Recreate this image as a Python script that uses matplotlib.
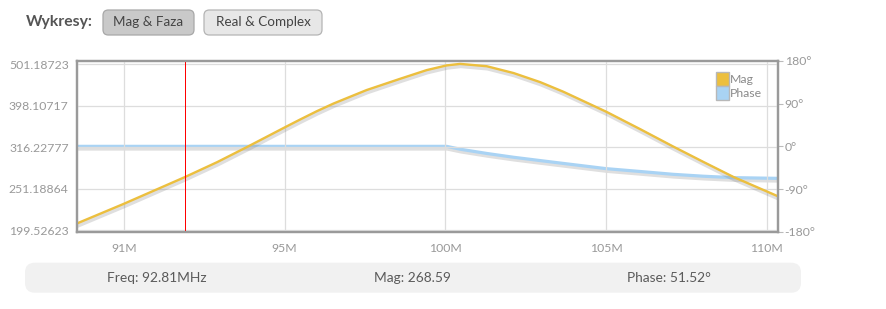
import matplotlib
matplotlib.use('Agg')
import matplotlib.pyplot as plt
import matplotlib.patheffects as pe
from matplotlib.patches import FancyBboxPatch, Patch

W, H, DPI = 886, 309, 100

# values
freq_mhz = [88.54, 89.99, 91.88, 92.90, 93.83, 95.0, 95.48, 96.0, 96.52, 97.55, 98.59,
            99.42, 100.04, 100.46, 101.29, 102.12, 102.95, 103.67, 105.0, 106.06,
            107.09, 108.03, 108.96, 110.33]
mag = [207.5, 231.2, 267.9, 291.4, 316.9, 353.2, 369.0, 386.4, 403.2, 434.5, 462.4,
       485.3, 498.1, 502.3, 495.8, 477.5, 454.0, 430.5, 385.5, 349.9,
       317.7, 291.7, 268.5, 241.5]
phase_deg = [0, 0, 0, 0, 0, 0, 0, 0, 0, 0, 0,
             0, 0, -6, -15, -23, -30, -36, -47, -53,
             -59, -63, -66, -67.5]

mag_ticks = [199.52623, 251.18864, 316.22777, 398.10717, 501.18723]
phase_ticks = [-180, -90, 0, 90, 180]
freq_ticks = [90, 95, 100, 105, 110]
freq_labels = ['91M', '95M', '100M', '105M', '110M']
cursor_freq = 91.9
readout = ['Freq: 92.81MHz', 'Mag: 268.59', 'Phase: 51.52°']

plt.rcParams['font.family'] = ['Lato', 'DejaVu Sans']

MAG_COL = '#ecbf3e'
PHASE_COL = '#a9d3f4'
AXIS_COL = '#9a9a9a'
GRID_COL = '#dddddd'
TICK_TXT = '#999999'


def fx(px):
    return px / W


def fy(py):
    return 1 - py / H


fig = plt.figure(figsize=(W / DPI, H / DPI), dpi=DPI, facecolor='white')

# header with the two buttons
fig.text(fx(26), fy(22), 'Wykresy:', fontsize=11.3, fontweight='bold', color='#555555',
         va='center', ha='left')
buttons = [('Mag & Faza', 103, 194, '#c9c9c9', '#a8a8a8'),
           ('Real & Complex', 204, 322, '#e7e7e7', '#b4b4b4')]
for label, x0, x1, fc, ec in buttons:
    box = FancyBboxPatch((fx(x0), fy(35)), fx(x1 - x0), 25 / H,
                         boxstyle='round,pad=0,rounding_size=0.006',
                         transform=fig.transFigure, facecolor=fc, edgecolor=ec, lw=0.9,
                         mutation_aspect=W / H)
    fig.add_artist(box)
    fig.text(fx((x0 + x1) / 2), fy(22.5), label, fontsize=9.7, color='#444444',
             ha='center', va='center')

# main chart
ax = fig.add_axes([fx(77), fy(231.7), fx(777.7 - 77), (231.7 - 61) / H])
ax2 = ax.twinx()

shadow = [pe.SimpleLineShadow(offset=(0.5, -1.5), shadow_color='#808080', alpha=0.25,
                              linewidth=3.2),
          pe.Normal()]

ax2.plot(freq_mhz, phase_deg, color=PHASE_COL, lw=2.3, solid_capstyle='butt',
         path_effects=shadow)
ax.plot(freq_mhz, mag, color=MAG_COL, lw=1.7, path_effects=shadow)
ax.axvline(cursor_freq, color='#ff0000', lw=0.72, antialiased=False)

ax.set_yscale('log')
ax.set_ylim(198.2, 510.4)
ax.set_xlim(88.54, 110.34)
ax.set_yticks(mag_ticks)
ax.set_yticklabels(['%.5f' % v for v in mag_ticks])
ax.minorticks_off()
ax.set_xticks(freq_ticks)
ax.set_xticklabels(freq_labels)
ax.tick_params(axis='both', length=0, labelsize=8.8, labelcolor=TICK_TXT)
ax.tick_params(axis='y', pad=6)
ax.tick_params(axis='x', pad=8)
ax.grid(True, color=GRID_COL, lw=0.9)
ax.set_axisbelow(True)

ax2.set_ylim(-180, 180)
ax2.set_yticks(phase_ticks)
ax2.set_yticklabels(['%d°' % v for v in phase_ticks])
ax2.tick_params(axis='y', length=3.5, width=0.8, color='#bbbbbb', labelsize=8.8,
                labelcolor=TICK_TXT, pad=1.5)

# mag on top of phase
ax.set_zorder(ax2.get_zorder() + 1)
ax.patch.set_visible(False)

for a in (ax, ax2):
    for s in a.spines.values():
        s.set_color(AXIS_COL)
        s.set_linewidth(1.6)

handles = [Patch(facecolor=MAG_COL, edgecolor='#b8b8b8', label='Mag'),
           Patch(facecolor=PHASE_COL, edgecolor='#b8b8b8', label='Phase')]
leg = ax.legend(handles=handles, loc='upper right', frameon=False, fontsize=8.8,
                handlelength=1.0, handleheight=1.35, handletextpad=0.12,
                labelspacing=0.05, borderaxespad=0.3, bbox_to_anchor=(0.99, 0.985))
for t in leg.get_texts():
    t.set_color('#8a8a8a')

# readout bar below the chart
bar = FancyBboxPatch((fx(25), fy(292.7)), fx(801 - 25), 30 / H,
                     boxstyle='round,pad=0,rounding_size=0.011',
                     transform=fig.transFigure, facecolor='#f1f1f1', edgecolor='none',
                     mutation_aspect=W / H)
fig.add_artist(bar)
for txt, cx in zip(readout, [157, 412, 669]):
    fig.text(fx(cx), fy(277.5), txt, fontsize=9.9, color='#5a5a5a', ha='center', va='center')

fig.savefig('out.png', dpi=DPI, facecolor='white')
